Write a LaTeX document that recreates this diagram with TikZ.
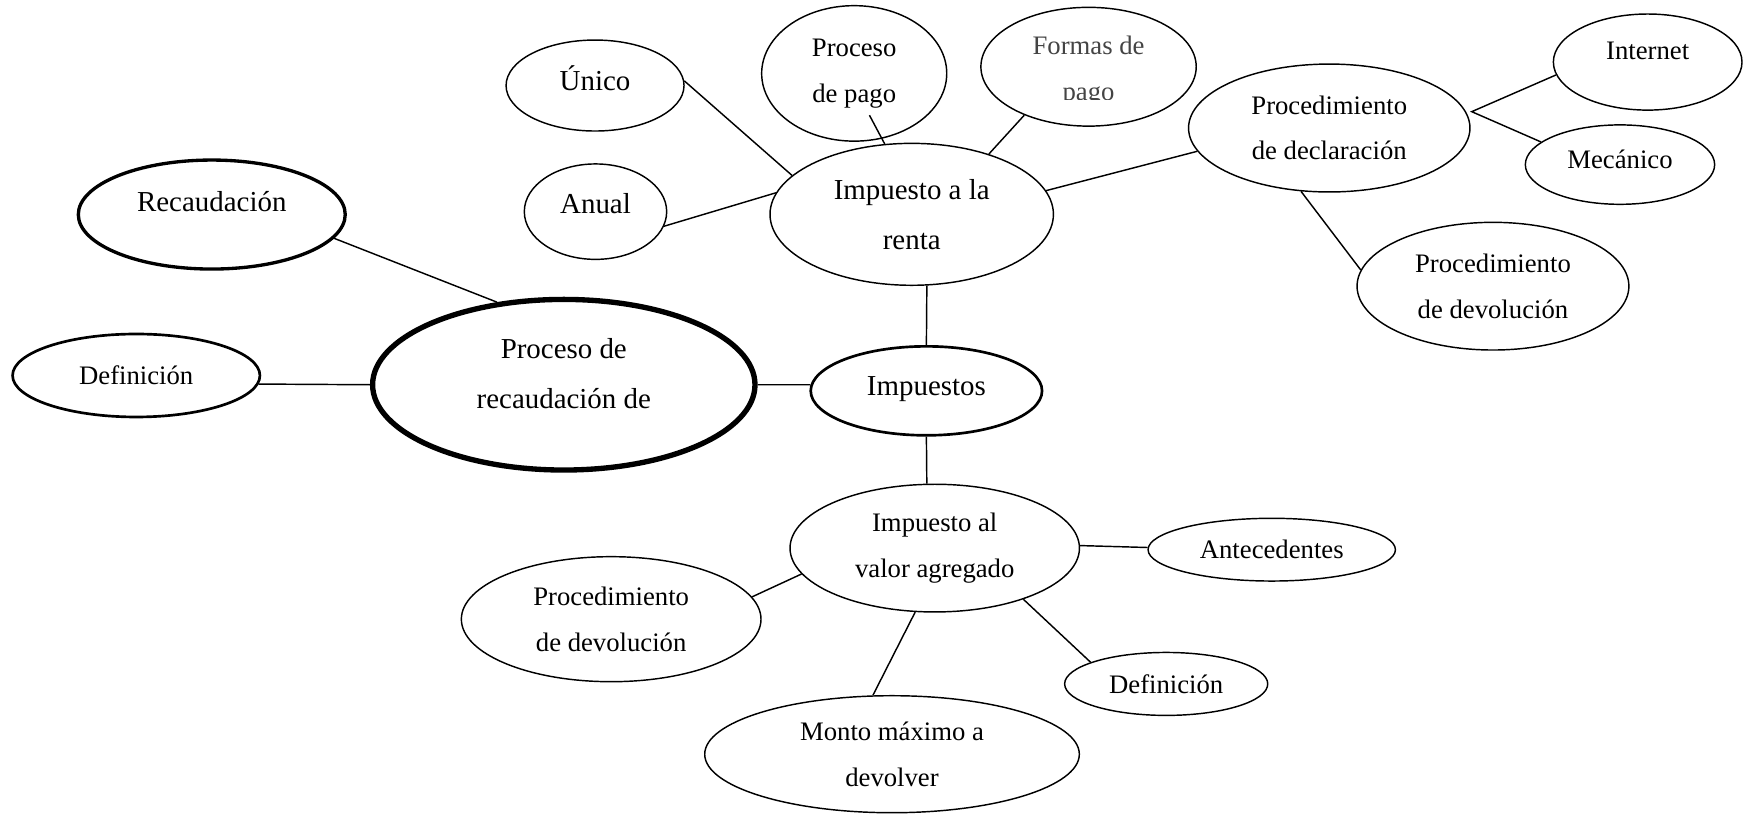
\documentclass[tikz,border=0pt]{standalone}
\usepackage{fontspec}
\setmainfont{Liberation Serif}
\usepackage{tikz}
\usetikzlibrary{shapes}
\definecolor{formasgray}{RGB}{68,68,68}
\tikzset{idea/.style={inner sep=0pt, align=center, line width=0.65pt, font=\fontsize{12}{20.5}\selectfont}}
\tikzset{bigtext/.style={font=\fontsize{13}{22.5}\selectfont}}
\tikzset{oval/.style 2 args={ellipse, draw, minimum width=#1pt, minimum height=#2pt}}
\tikzset{rim/.style={line width=#1}}
\tikzset{lift/.style={text height=8pt, text depth=#1}}
\tikzset{link/.style={draw, line width=0.65pt}}

\begin{document}
\begin{tikzpicture}[x=0.5pt, y=-0.5pt]
    \useasboundingbox (0,0) rectangle (1568,732);

    \node [idea, oval={120}{49}, rim=1.5pt, bigtext, lift=10.4pt] (recaudacion) at (190.4,192.9) {Recaudación};
    \node [idea, oval={111.2}{37.3}, rim=1.2pt] (defProceso) at (122.5,337.6) {Definición};
    \node [idea, oval={171.9}{76.7}, rim=2.4pt, bigtext, text height=21.2pt, text depth=0pt] (proceso) at (506.9,345.9) {Proceso de\\recaudación de};
    \node [idea, oval={104}{40}, rim=1.2pt, bigtext, lift=3.4pt] (impuestos) at (832.9,351.4) {Impuestos};

    % Impuesto a la renta and its branches.
    \node [idea, oval={127.4}{63.8}, bigtext] (renta) at (819.7,192.7) {Impuesto a la\\renta};
    \node [idea, oval={80}{40.9}, bigtext, lift=3.4pt] (unico) at (535,76.9) {Único};
    \node [idea, oval={64}{42.9}, bigtext, lift=6.4pt] (anual) at (535.4,190.3) {Anual};
    \node [idea, oval={83.2}{60.9}] (procPago) at (768,66) {Proceso\\de pago};
    \node [idea, oval={96.8}{53.4}] (formasPago) at (978.7,60) {};
    \begin{scope}
        \clip (870,0) rectangle (1090,89.5);
        \node [idea, text=formasgray, yshift=-2pt] (formasText) at (formasPago) {Formas de\\pago};
    \end{scope}
    \node [idea, oval={126.5}{57.5}] (procDecl) at (1195.1,115.1) {Procedimiento\\de declaración};
    \node [idea, oval={84.8}{43.2}, lift=10pt] (internet) at (1481.4,55.8) {Internet};
    \node [idea, oval={85.1}{35.7}, lift=4.6pt] (mecanico) at (1456.5,148) {Mecánico};
    \node [idea, oval={122.2}{57.4}] (devRenta) at (1342.3,257.3) {Procedimiento\\de devolución};

    % Impuesto al valor agregado and its branches.
    \node [idea, oval={130.1}{57.4}] (iva) at (840.4,492.8) {Impuesto al\\valor agregado};
    \node [idea, oval={111.2}{28.2}] (antecedentes) at (1143.4,494.2) {Antecedentes};
    \node [idea, oval={134.7}{56.2}] (devIva) at (549.5,556.7) {Procedimiento\\de devolución};
    \node [idea, oval={91.3}{28.3}] (defIva) at (1048.5,614.9) {Definición};
    \node [idea, oval={168.4}{52.6}] (monto) at (802,678.1) {Monto máximo a\\devolver};

    \draw [link] (recaudacion.-11.5) -- (proceso.129);
    \draw [link] (defProceso.-4) -- (proceso.west);
    \draw [link] (proceso.east) -- (impuestos.177);
    \draw [link] (impuestos.north) -- (renta.-78);
    \draw [link] (impuestos.south) -- (iva.97);

    \draw [link] (unico.3) -- (renta.162);
    \draw [link] (anual.-12) -- (renta.171);
    \draw [link, shorten >=-12pt] (renta.111) -- (procPago.-67);
    \draw [link] (renta.38) -- (formasPago.217);
    \draw [link] (renta.10) -- (procDecl.190);
    \coordinate (declFork) at (1323.2,100.4);
    \draw [link] (internet.188) -- (declFork) -- (mecanico.164);
    \draw [link] (procDecl.-114) -- (devRenta.173);

    \draw [link] (iva.1) -- (antecedentes.179);
    \draw [link] (iva.191) -- (devIva.9);
    \draw [link] (iva.-107) -- (monto.108);
    \draw [link] (iva.-30) -- (defIva.164);
\end{tikzpicture}
\end{document}
